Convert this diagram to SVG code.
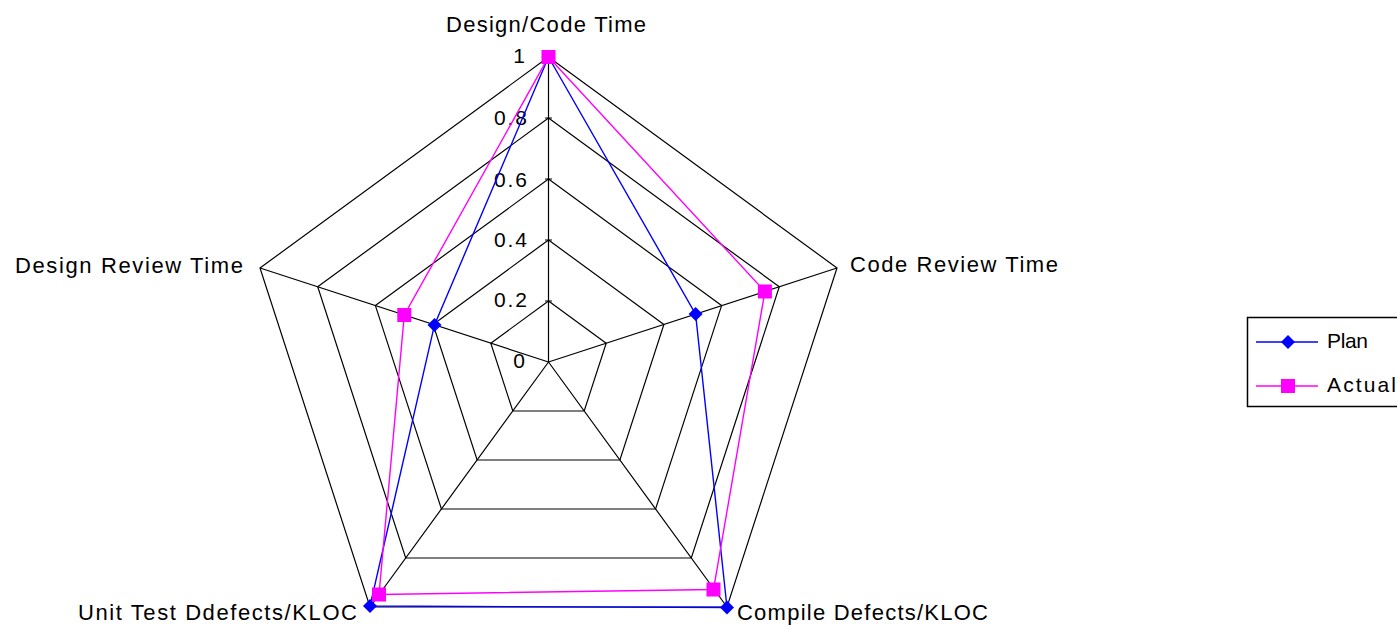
<svg xmlns="http://www.w3.org/2000/svg" width="1397" height="627" viewBox="0 0 1397 627">
  <style>
    .grid { fill: none; stroke: #000; stroke-width: 1.2; }
    .lbl { font-family: "Liberation Sans", Arial, sans-serif; font-size: 22px; fill: #000; }
    .tick { font-family: "Liberation Sans", Arial, sans-serif; font-size: 21px; fill: #000; text-anchor: end; }
    .leg { font-family: "Liberation Sans", Arial, sans-serif; font-size: 21px; fill: #000; }
    .plan { fill: none; stroke: #0000ff; stroke-width: 1.4; }
    .actual { fill: none; stroke: #ff00ff; stroke-width: 1.4; }
  </style>
  <defs>
    <marker id="diamond" markerUnits="userSpaceOnUse" markerWidth="16" markerHeight="16" refX="8" refY="8" overflow="visible">
      <path d="M8,1 L15,8 L8,15 L1,8 Z" fill="#0000ff"/>
    </marker>
    <marker id="square" markerUnits="userSpaceOnUse" markerWidth="14" markerHeight="14" refX="7" refY="7" overflow="visible">
      <rect x="0" y="0" width="14" height="14" fill="#ff00ff"/>
    </marker>
  </defs>

  <rect width="1397" height="627" fill="#fff"/>

  <!-- radar grid: five rings, spokes and axis ticks -->
  <g id="grid" class="grid">
    <polygon points="548.5,57 837,268 727,607 370,607 260,268"/>
    <polygon points="548.5,118 779.3,286.8 691.3,558 405.7,558 317.7,286.8"/>
    <polygon points="548.5,179 721.6,305.6 655.6,509 441.4,509 375.4,305.6"/>
    <polygon points="548.5,240 663.9,324.4 619.9,460 477.1,460 433.1,324.4"/>
    <polygon points="548.5,301 606.2,343.2 584.2,411 512.8,411 490.8,343.2"/>
    <path d="M548.5,362 L548.5,57 M548.5,362 L837,268 M548.5,362 L727,607 M548.5,362 L370,607 M548.5,362 L260,268"/>
    <path d="M545,118 H552 M545,179 H552 M545,240 H552 M545,301 H552"/>
  </g>

  <!-- value scale -->
  <g id="scale">
    <text class="tick" x="525" y="63">1</text>
    <text class="tick" x="527" y="125" textLength="33">0.8</text>
    <text class="tick" x="527" y="187" textLength="33">0.6</text>
    <text class="tick" x="527" y="247" textLength="33">0.4</text>
    <text class="tick" x="527" y="307" textLength="33">0.2</text>
    <text class="tick" x="525" y="368">0</text>
  </g>

  <!-- category labels -->
  <g id="categories">
    <text class="lbl" x="446" y="32" textLength="200">Design/Code Time</text>
    <text class="lbl" x="850" y="272" textLength="208">Code Review Time</text>
    <text class="lbl" x="15" y="273" textLength="228">Design Review Time</text>
    <text class="lbl" x="78" y="620" textLength="279">Unit Test Ddefects/KLOC</text>
    <text class="lbl" x="737" y="620" textLength="251">Compile Defects/KLOC</text>
  </g>

  <!-- data series -->
  <g id="connectors">
    <polygon id="series-plan" class="plan" points="548.5,57 695.6,314.1 727,607.5 370,606 434.5,324.9"
             marker-start="url(#diamond)" marker-mid="url(#diamond)"/>
    <polygon id="series-actual" class="actual" points="548.5,57 764.9,291.5 713.5,589.5 379,594.5 404.3,315"
             marker-start="url(#square)" marker-mid="url(#square)"/>
  </g>

  <!-- legend -->
  <g id="legend">
    <rect x="1247.5" y="317.5" width="160" height="89" fill="#fff" stroke="#000" stroke-width="1.5"/>
    <line x1="1256" y1="342" x2="1318" y2="342" stroke="#0000ff" stroke-width="1.4"/>
    <path d="M1288,335 L1295,342 L1288,349 L1281,342 Z" fill="#0000ff"/>
    <text class="leg" x="1327" y="348" textLength="41">Plan</text>
    <line x1="1256" y1="386" x2="1318" y2="386" stroke="#ff00ff" stroke-width="1.4"/>
    <rect x="1281" y="379" width="14" height="14" fill="#ff00ff"/>
    <text class="leg" x="1327" y="392" textLength="69">Actual</text>
  </g>
</svg>
